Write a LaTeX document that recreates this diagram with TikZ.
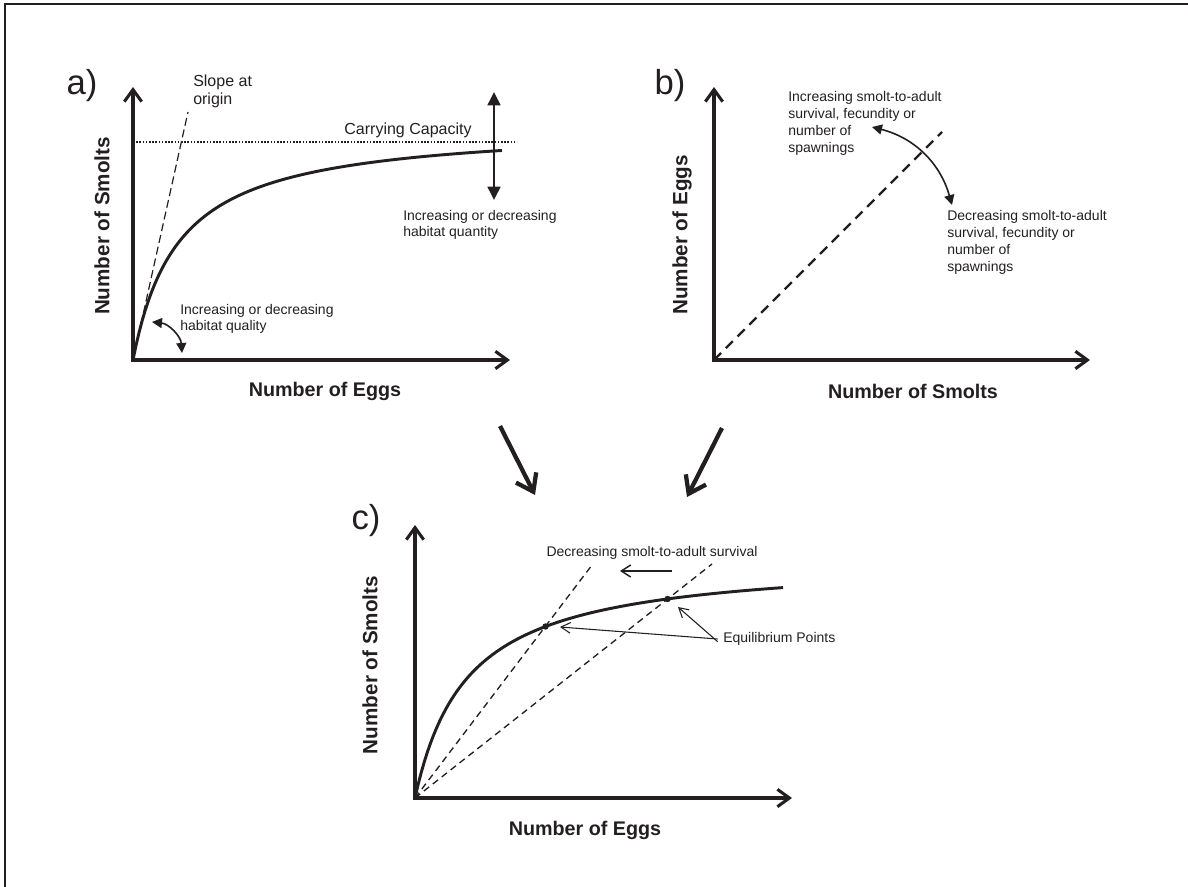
\documentclass[tikz,border=0pt]{standalone}
\usepackage{fontspec}
\setmainfont{Liberation Sans}
\usetikzlibrary{arrows.meta}
\definecolor{ink}{RGB}{35,31,32}
\begin{document}
\begin{tikzpicture}[x=0.75pt,y=-0.75pt,
  every node/.style={text=ink, inner sep=0pt},
  axisline/.style={draw=ink, line width=2.3pt, line join=miter,
    {Straight Barb[length=9pt,width=13pt]}-{Straight Barb[length=9pt,width=13pt]}},
  curveline/.style={draw=ink, line width=2.2pt},
  panellabel/.style={font=\fontsize{26}{28}\selectfont},
  xlab/.style={font=\fontsize{14.8}{17}\selectfont\bfseries},
  ylab/.style={font=\fontsize{15.5}{17}\selectfont\bfseries, rotate=90},
  smalltext/.style={font=\fontsize{10.5}{12}\selectfont, align=left},
  midtext/.style={font=\fontsize{12}{13.5}\selectfont, align=left},
  bigarrow/.style={draw=ink, line width=3.2pt, -{Straight Barb[length=12pt,width=17pt]}},
  thinarrow/.style={draw=ink, line width=0.8pt, -{Straight Barb[length=7pt,width=8pt]}},
  curvedarrow/.style={draw=ink, line width=1.2pt,
    {Triangle[length=7.5pt,width=7.5pt]}-{Triangle[length=7.5pt,width=7.5pt]}}
]
\useasboundingbox (0,0) rectangle (1188,886);
% frame
\draw[ink, line width=1.5pt] (5,890) -- (5,4) -- (1192,4);

% ---------------- panel a ----------------
\coordinate (aO) at (133,360);
\coordinate (aY) at (133,87);
\coordinate (aX) at (510,360);
\node[panellabel] (alab) at (82,86) {a)};
\draw[draw=ink, line width=1.1pt, dash pattern=on 1.2pt off 1.2pt] (133,142) -- (517,142);
\node[midtext] (cap) at (408,130) {Carrying Capacity};
\draw[draw=ink, line width=0.9pt, dash pattern=on 6pt off 3pt] (aO) -- (188,112);
\node[midtext, anchor=west] (slope) at (193,91) {Slope at\\origin};
\draw[curveline] plot[domain=0:369, samples=120] ({133+\x},{360-5.15*\x/(1+5.15*\x/235.5)});
\draw[axisline] (aY) -- (aO) -- (aX);
\coordinate (qt) at (494,92);
\coordinate (qb) at (494,200);
\draw[draw=ink, line width=1.9pt,
  {Triangle[length=10pt,width=9.5pt]}-{Triangle[length=10pt,width=9.5pt]}] (qt) -- (qb);
\node[smalltext, anchor=west] (quant) at (403,225) {Increasing or decreasing\\habitat quantity};
\coordinate (ql1) at (152,322);
\coordinate (ql2) at (182,353);
\draw[curvedarrow] (ql1) to[bend left=40] (ql2);
\node[smalltext, anchor=west] (qual) at (180,319) {Increasing or decreasing\\habitat quality};
\node[xlab] (axl) at (325,391) {Number of Eggs};
\node[ylab] (ayl) at (102,226) {Number of Smolts};

% ---------------- panel b ----------------
\coordinate (bO) at (714,360);
\coordinate (bY) at (714,87);
\coordinate (bX) at (1090,360);
\node[panellabel] (blab) at (670,86) {b)};
\draw[draw=ink, line width=1.8pt, dash pattern=on 7.5pt off 5pt] (bO) -- (942,132);
\draw[axisline] (bY) -- (bO) -- (bX);
\node[smalltext, anchor=west, font=\fontsize{10.5}{12.75}\selectfont] (binc) at (788,123.5)
  {Increasing smolt-to-adult\\survival, fecundity or\\number of\\spawnings};
\node[smalltext, anchor=west, font=\fontsize{10.5}{12.75}\selectfont] (bdec) at (947,242)
  {Decreasing smolt-to-adult\\survival, fecundity or\\number of\\spawnings};
\coordinate (bc1) at (872,127);
\coordinate (bc2) at (952,205);
\draw[curvedarrow] (bc1) to[bend left=30] (bc2);
\node[xlab] (bxl) at (913,391) {Number of Smolts};
\node[ylab] (byl) at (682,235) {Number of Eggs};

% ---------------- big arrows ----------------
\coordinate (ba1) at (500,426);
\coordinate (ba2) at (535,495);
\coordinate (bb1) at (722,428);
\coordinate (bb2) at (687,497);
\draw[bigarrow] (ba1) -- (ba2);
\draw[bigarrow] (bb1) -- (bb2);

% ---------------- panel c ----------------
\coordinate (cO) at (415,798);
\coordinate (cY) at (415,525);
\coordinate (cX) at (792,798);
\node[panellabel] (clab) at (366,521) {c)};
\draw[draw=ink, line width=1pt, dash pattern=on 5pt off 3.5pt] (cO) -- (592,565);
\draw[draw=ink, line width=1pt, dash pattern=on 5pt off 3.5pt] (cO) -- (712,564);
\draw[curveline] plot[domain=0:368, samples=120] ({415+\x},{798-4.584*\x/(1+4.584*\x/240.4)});
\draw[axisline] (cY) -- (cO) -- (cX);
\coordinate (e1) at (545.5,626.5);
\coordinate (e2) at (667.6,599);
\fill[ink] (e1) circle (3.2);
\fill[ink] (e2) circle (3.2);
\node[smalltext] (cdec) at (652,553) {Decreasing smolt-to-adult survival};
\coordinate (la1) at (672,571);
\coordinate (la2) at (620,571);
\draw[draw=ink, line width=1.1pt, -{Straight Barb[length=7pt,width=9pt]}] (la1) -- (la2);
\node[smalltext, anchor=west] (eq) at (723,639) {Equilibrium Points};
\draw[thinarrow] ([xshift=-4]eq.west) -- (560,627);
\draw[thinarrow] ([xshift=-4,yshift=-2]eq.west) -- (678,607);
\node[xlab] (cxl) at (585,830) {Number of Eggs};
\node[ylab] (cyl) at (370,665) {Number of Smolts};
\end{tikzpicture}
\end{document}
